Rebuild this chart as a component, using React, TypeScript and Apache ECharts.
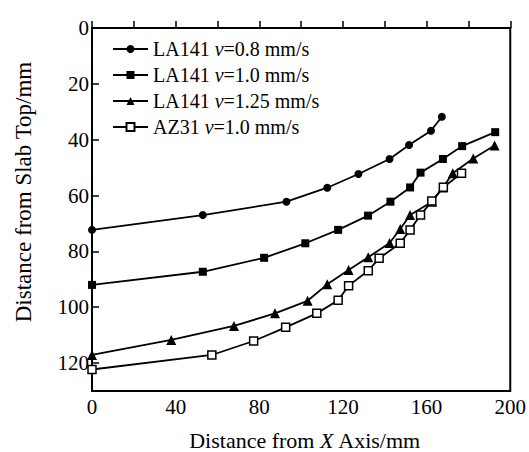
import React, { useEffect, useRef } from "react";
import * as echarts from "echarts";

const seriesNames = [
  "LA141 v=0.8 mm/s",
  "LA141 v=1.0 mm/s",
  "LA141 v=1.25 mm/s",
  "AZ31 v=1.0 mm/s",
];

const xCircle = [0, 53, 93, 112.5, 127.4, 142.3, 151.6, 162.1, 167.3];
const yCircle = [72.3, 67, 62.2, 57.2, 52.3, 46.9, 41.9, 36.8, 31.8];

const xSquare = [0, 53, 82.3, 102, 117.7, 132, 142.7, 152.1, 157.1, 167.8, 177, 192.8];
const ySquare = [92, 87.3, 82.3, 77.1, 72.3, 67.2, 62.2, 57.1, 51.8, 46.9, 42.3, 37.3];

const xTriangle = [0, 37.9, 67.9, 87.5, 103.1, 112.5, 122.7, 132.1, 142.3, 147.4, 152.1, 162.6, 167.8, 172.5, 182.3, 192.5];
const yTriangle = [117.1, 111.7, 106.7, 102.2, 97.7, 91.8, 86.7, 82.1, 77, 72, 67, 62.2, 57.1, 52, 46.7, 42.1];

const xHollow = [0, 57.3, 77.3, 92.6, 107.5, 117.7, 122.7, 132.1, 137.3, 147.4, 152.1, 157.1, 162.5, 168, 176.7];
const yHollow = [122.3, 117.1, 112.1, 107.2, 102.2, 97.5, 92.3, 86.9, 82.5, 77.1, 72.3, 67, 62, 57, 52];

const xTicks = [0, 40, 80, 120, 160, 200];
const yTicks = [0, 20, 40, 60, 80, 100, 120];

const FONT = "'Liberation Serif', 'Times New Roman', serif";

function pairs(xs: number[], ys: number[]) {
  return xs.map((x, i) => [x, ys[i]]);
}

export default function App() {
  const ref = useRef<HTMLDivElement>(null);
  useEffect(() => {
    if (!ref.current) return;
    const chart = echarts.init(ref.current, null, { renderer: "svg" });
    const base = {
      type: "line",
      color: "#000",
      lineStyle: { color: "#000", width: 1.8 },
      showAllSymbol: true,
    };
    chart.setOption({
      animation: false,
      backgroundColor: "#fff",
      textStyle: { fontFamily: FONT, color: "#000" },
      grid: {
        left: 92,
        top: 28,
        width: 426,
        height: 363,
        show: true,
        borderColor: "#000",
        borderWidth: 2,
        backgroundColor: "transparent",
      },
      legend: {
        orient: "vertical",
        left: 112,
        top: 37,
        padding: 0,
        itemWidth: 35,
        itemHeight: 10,
        itemGap: 2,
        data: seriesNames,
        formatter: (name: string) => {
          const parts = name.split(" v=");
          return `{n|${parts[0]} }{i|v}{n|=${parts[1]}}`;
        },
        textStyle: {
          color: "#000",
          fontFamily: FONT,
          fontSize: 20,
          lineHeight: 24,
          rich: {
            n: { fontFamily: FONT, fontSize: 20, lineHeight: 24, color: "#000" },
            i: { fontFamily: FONT, fontSize: 20, lineHeight: 24, fontStyle: "italic", color: "#000" },
          },
        },
      },
      xAxis: {
        type: "value",
        min: 0,
        max: 200,
        interval: 20,
        axisLine: { show: true, lineStyle: { color: "#000", width: 2 } },
        axisTick: { show: true, inside: true, length: 7, lineStyle: { color: "#000", width: 1.5 } },
        axisLabel: {
          margin: 5,
          color: "#000",
          fontFamily: FONT,
          fontSize: 21,
          formatter: (v: number) => (xTicks.includes(v) ? String(v) : ""),
        },
        splitLine: { show: false },
      },
      yAxis: {
        type: "value",
        inverse: true,
        min: 0,
        max: 130,
        interval: 20,
        axisLine: { show: true, lineStyle: { color: "#000", width: 2 } },
        axisTick: { show: true, inside: true, length: 7, lineStyle: { color: "#000", width: 1.5 } },
        axisLabel: {
          margin: 3,
          color: "#000",
          fontFamily: FONT,
          fontSize: 21,
          showMaxLabel: false,
          formatter: (v: number) => (yTicks.includes(v) ? String(v) : ""),
        },
        splitLine: { show: false },
      },
      graphic: [
        {
          type: "text",
          x: 23,
          y: 192,
          rotation: Math.PI / 2,
          style: {
            text: "Distance from Slab Top/mm",
            fontFamily: FONT,
            fontSize: 23,
            fill: "#000",
            align: "center",
            verticalAlign: "middle",
          },
        },
        {
          type: "text",
          x: 305,
          y: 440,
          style: {
            text: "{n|Distance from }{i|X}{n| Axis/mm}",
            fill: "#000",
            align: "center",
            verticalAlign: "middle",
            rich: {
              n: { fontFamily: FONT, fontSize: 22, fill: "#000" },
              i: { fontFamily: FONT, fontSize: 22, fontStyle: "italic", fill: "#000" },
            },
          },
        },
      ],
      series: [
        {
          ...base,
          name: seriesNames[0],
          symbol: "circle",
          symbolSize: 8,
          itemStyle: { color: "#000" },
          data: pairs(xCircle, yCircle),
        },
        {
          ...base,
          name: seriesNames[1],
          symbol: "rect",
          symbolSize: 8,
          itemStyle: { color: "#000" },
          data: pairs(xSquare, ySquare),
        },
        {
          ...base,
          name: seriesNames[2],
          symbol: "triangle",
          symbolSize: 10,
          itemStyle: { color: "#000" },
          data: pairs(xTriangle, yTriangle),
        },
        {
          ...base,
          name: seriesNames[3],
          symbol: "rect",
          symbolSize: 8,
          itemStyle: { color: "#fff", borderColor: "#000", borderWidth: 1.5 },
          data: pairs(xHollow, yHollow),
        },
      ],
    });
    return () => chart.dispose();
  }, []);
  return (
    <div
      ref={ref}
      style={{ position: "fixed", left: 0, top: 0, width: 529, height: 452, background: "#fff" }}
    />
  );
}
